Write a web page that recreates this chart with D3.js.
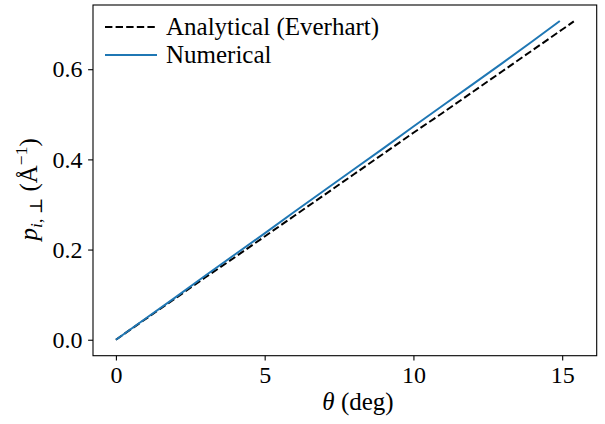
<!DOCTYPE html>
<html><head><meta charset="utf-8">
<script src="https://cdn.jsdelivr.net/npm/d3@7"></script>
<style>
body{margin:0;background:#fff;}
svg{display:block;font-family:"Liberation Serif","DejaVu Serif",serif;}
</style></head>
<body>
<svg id="chart" width="605" height="424"></svg>
<script>
const analyticalTheta = [0,1,2,3,4,5,6,7,8,9,10,11,12,13,14,15,15.39];
const analyticalP = [0,0.046,0.092,0.138,0.183,0.229,0.275,0.321,0.367,0.413,0.459,0.504,0.550,0.596,0.642,0.688,0.706];
const numericalTheta = [0,1,2,3,4,5,6,7,8,9,10,11,12,13,14,14.92];
const numericalP = [0,0.047,0.094,0.142,0.189,0.236,0.284,0.331,0.378,0.425,0.473,0.520,0.567,0.614,0.662,0.707];
const xTicks = [0,5,10,15];
const yTicks = [0.0,0.2,0.4,0.6];
const seriesNames = ["Analytical (Everhart)","Numerical"];

const svg = d3.select("#chart");
const L=93, R=596.7, T=5, B=355.7;
const x = d3.scaleLinear().domain([-0.77,16.16]).range([L,R]);
const y = d3.scaleLinear().domain([-0.0354,0.7424]).range([B,T]);

const line = d3.line().x(d=>x(d[0])).y(d=>y(d[1]));
const aData = analyticalTheta.map((t,i)=>[t,analyticalP[i]]);
const nData = numericalTheta.map((t,i)=>[t,numericalP[i]]);

svg.append("path").datum(aData).attr("d",line).attr("fill","none")
  .attr("stroke","#000").attr("stroke-width",2).attr("stroke-dasharray","7.4,3.2");
svg.append("path").datum(nData).attr("d",line).attr("fill","none")
  .attr("stroke","#1f77b4").attr("stroke-width",2);

// axes
const xAxis = d3.axisBottom(x).tickValues(xTicks).tickFormat(d3.format("d")).tickSizeOuter(0).tickSize(4.9).tickPadding(4);
const yAxis = d3.axisLeft(y).tickValues(yTicks).tickFormat(d3.format(".1f")).tickSizeOuter(0).tickSize(4.9).tickPadding(5.5);
const gx = svg.append("g").attr("transform",`translate(0,${B})`).call(xAxis);
const gy = svg.append("g").attr("transform",`translate(${L},0)`).call(yAxis);
[gx,gy].forEach(g=>{
  g.select(".domain").remove();
  g.selectAll("line").attr("stroke","#000").attr("stroke-width",1.1);
  g.selectAll("text").attr("font-family","Liberation Serif, serif").attr("font-size",24).attr("fill","#000");
});
gx.selectAll("text").attr("dy","0.78em");
// frame
svg.append("rect").attr("x",L).attr("y",T).attr("width",R-L).attr("height",B-T)
  .attr("fill","none").attr("stroke","#000").attr("stroke-width",1.1);

// axis labels
const xl = svg.append("text").attr("x",358).attr("y",410).attr("text-anchor","middle")
  .attr("font-size",25).attr("fill","#000");
xl.append("tspan").attr("font-style","italic").text("θ");
xl.append("tspan").text(" (deg)");

const yl = svg.append("text").attr("transform",`translate(37,${(T+B)/2+9}) rotate(-90)`)
  .attr("text-anchor","middle").attr("font-size",25).attr("fill","#000");
yl.append("tspan").attr("font-style","italic").text("p");
yl.append("tspan").attr("font-size",17.5).attr("dy",5).attr("font-style","italic").text("i");
yl.append("tspan").attr("font-size",17.5).text(", ⊥");
yl.append("tspan").attr("dy",-5).text(" (Å");
yl.append("tspan").attr("font-size",17.5).attr("dy",-10).text("−1");
yl.append("tspan").attr("dy",10).text(")");

// legend
const leg = svg.append("g");
const rows = [{name:seriesNames[0],color:"#000",dash:"7.4,3.2",yy:27},{name:seriesNames[1],color:"#1f77b4",dash:null,yy:55}];
rows.forEach(r=>{
  leg.append("line").attr("x1",105).attr("x2",157).attr("y1",r.yy).attr("y2",r.yy)
    .attr("stroke",r.color).attr("stroke-width",2).attr("stroke-dasharray",r.dash);
  leg.append("text").attr("x",166).attr("y",r.yy).attr("dy","0.33em").attr("font-size",25).attr("fill","#000").text(r.name);
});
</script>
</body></html>
